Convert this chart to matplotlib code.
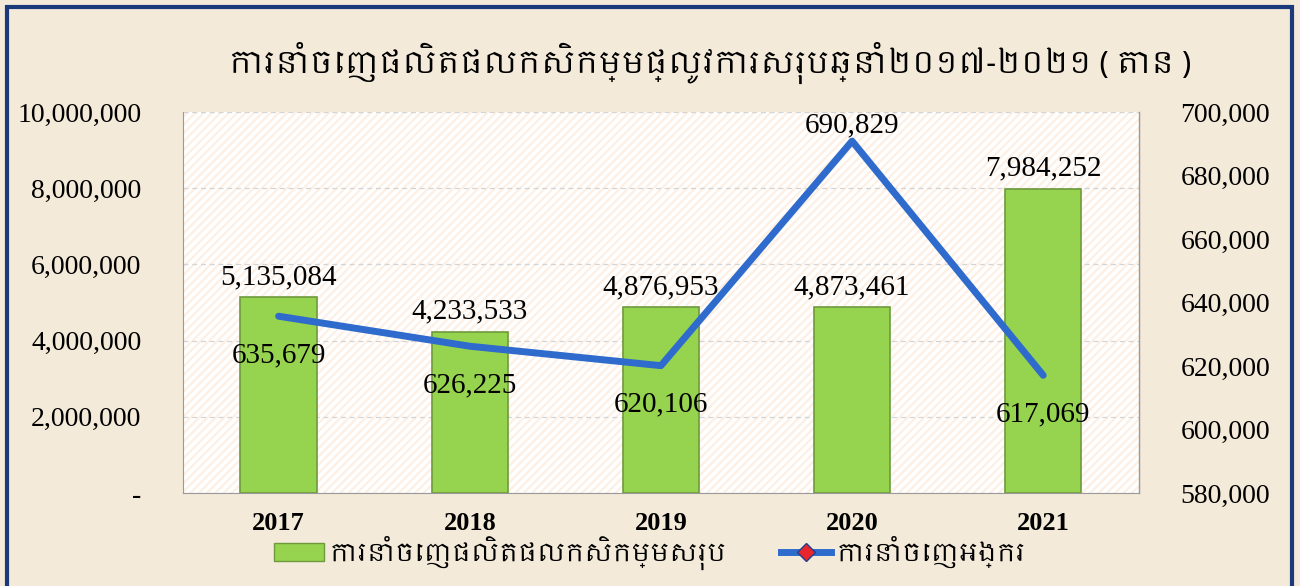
import matplotlib
matplotlib.use("Agg")
import matplotlib.pyplot as plt
from matplotlib import font_manager
from matplotlib.patches import Rectangle, Patch
from matplotlib.lines import Line2D
from matplotlib.ticker import FuncFormatter

# data
years = ["2017", "2018", "2019", "2020", "2021"]
total_exports = [5135084, 4233533, 4876953, 4873461, 7984252]
rice_exports = [635679, 626225, 620106, 690829, 617069]
title = "ការនាំចេញផលិតផលកសិកម្មផ្លូវការសរុបឆ្នាំ២០១៧-២០២១ ( តោន )"
bar_label = "ការនាំចេញផលិតផលកសិកម្មសរុប"
line_label = "ការនាំចេញអង្ករ"

# pick a khmer font if one happens to be there
khmer = sorted({f.name for f in font_manager.fontManager.ttflist if "Khmer" in f.name})
serif = ["Liberation Serif"] + khmer[:1] + ["DejaVu Sans"]
kh_fam = khmer[:1] + ["Liberation Serif", "DejaVu Sans"]
plt.rcParams["font.family"] = serif
plt.rcParams["hatch.linewidth"] = 1.6

bg = "#f3ead9"
fig = plt.figure(figsize=(13, 5.86), dpi=100, facecolor=bg)
ax = fig.add_axes([0.1408, 0.1587, 0.7352, 0.6502])
ax2 = ax.twinx()

ax.set_facecolor("white")
ax.add_patch(Rectangle((0, 0), 1, 1, transform=ax.transAxes, facecolor="white",
                       edgecolor="#fdefe3", hatch="////", lw=0, zorder=0))

x = range(len(years))
ax.bar(x, total_exports, width=0.4, color="#96d34f", edgecolor="#6e9a3c",
       linewidth=1.2, zorder=2)
ax.set_xlim(-0.5, 4.5)
ax.set_ylim(0, 10000000)
ax.set_yticks(range(0, 10000001, 2000000))
ax.yaxis.set_major_formatter(FuncFormatter(lambda v, p: "-" if v == 0 else f"{v:,.0f}"))
ax.grid(axis="y", color="#d4d4d4", linestyle=(0, (4, 3)), lw=0.9, zorder=1)
ax.set_axisbelow(True)
ax.set_xticks(list(x))
ax.set_xticklabels(years, fontsize=19, fontweight="bold")
ax.tick_params(axis="x", length=0, pad=14)
ax.tick_params(axis="y", length=0, pad=30, labelsize=20)

ax2.plot(x, rice_exports, color="#2f6bcc", lw=5, solid_capstyle="round",
         solid_joinstyle="round", zorder=3)
ax2.set_ylim(580000, 700000)
ax2.set_yticks(range(580000, 700001, 20000))
ax2.yaxis.set_major_formatter(FuncFormatter(lambda v, p: f"{v:,.0f}"))
ax2.tick_params(axis="y", length=0, pad=30, labelsize=20)

for a in (ax, ax2):
    a.spines["top"].set_visible(False)
ax.spines["left"].set_color("#9a9a9a")
ax.spines["left"].set_linestyle((0, (2, 1)))
ax.spines["bottom"].set_color("#9a9a9a")
ax2.spines["right"].set_color("#9a9a9a")
ax2.spines["left"].set_visible(False)
ax2.spines["bottom"].set_visible(False)

for i, v in enumerate(total_exports):
    ax.annotate(f"{v:,}", (i, v), xytext=(0, 5), textcoords="offset points",
                ha="center", va="bottom", fontsize=21, zorder=5)
for i, v in enumerate(rice_exports):
    dy = 11 if v == max(rice_exports) else -28
    ax2.annotate(f"{v:,}", (i, v), xytext=(0, dy), textcoords="offset points",
                 ha="center", va="center", fontsize=21, zorder=5)

fig.text(0.546, 0.893, title, ha="center", va="center", fontsize=22,
         fontweight="bold", family=kh_fam)

handles = [Patch(facecolor="#96d34f", edgecolor="#6e9a3c"),
           Line2D([], [], color="#2f6bcc", lw=5, marker="D", markersize=9,
                  markerfacecolor="#e8262b", markeredgecolor="#1f3f8f")]
fig.legend(handles, [bar_label, line_label], loc="center", ncol=2,
           bbox_to_anchor=(0.5, 0.057), frameon=False, columnspacing=2.2,
           handlelength=2.0, handletextpad=0.2, prop={"family": kh_fam, "size": 18})

fig.add_artist(Rectangle((0.0055, -0.02), 0.988, 1.008, transform=fig.transFigure,
                         fill=False, edgecolor="#1b3a7c", lw=3))

fig.savefig("out.png", dpi=100, facecolor=bg)
